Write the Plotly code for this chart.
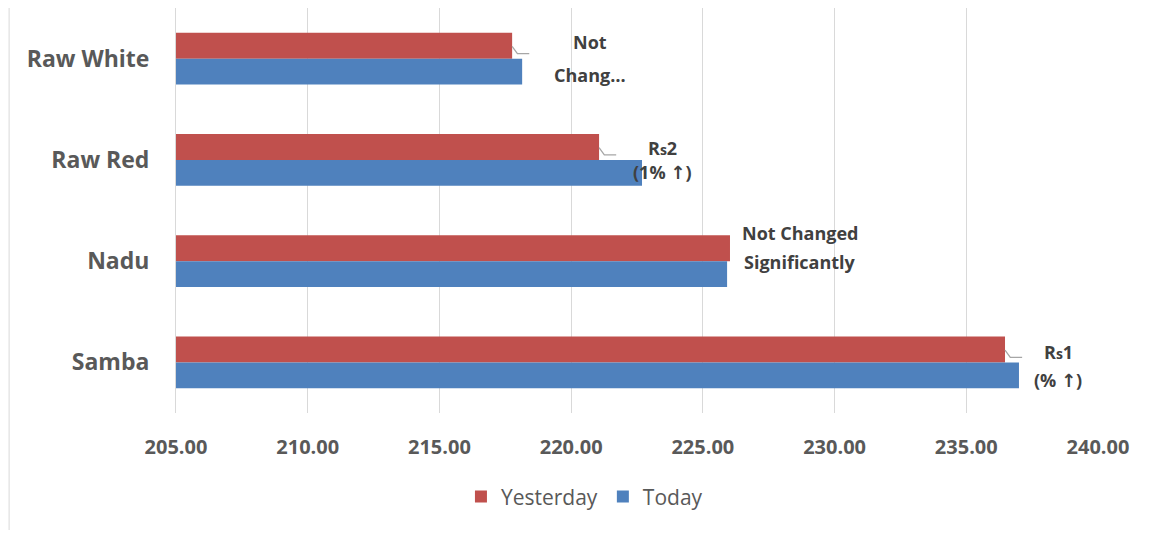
import plotly.graph_objects as go

categories = ["Raw White", "Raw Red", "Nadu", "Samba"]
yesterday = [217.76, 221.06, 226.03, 236.47]
today = [218.14, 222.69, 225.92, 237.00]
ARW = "<span style='font-family:DejaVu Sans'>↑</span>"
RS = "R<span style='font-size:14px'>s</span>"
label_line1 = ["Not", RS + "2", "Not Changed", RS + "1"]
label_line2 = ["Chang…", "(1% " + ARW + ")", "Significantly", "(% " + ARW + ")"]
label_x = [220.72, 223.45, 228.69, 238.49]
label_y = [0.0, 1.0, 1.87, 3.04]
label_gap = [33, 24, 29, 28]
leader = [True, True, False, True]
tick_vals = [205, 210, 215, 220, 225, 230, 235, 240]

RED = "#c0504d"
BLUE = "#4f81bd"
TXT = "#595959"
FONT = "Open Sans"

fig = go.Figure()
fig.add_trace(go.Bar(y=categories, x=yesterday, name="Yesterday", orientation="h",
                     marker=dict(color=RED, line=dict(width=0))))
fig.add_trace(go.Bar(y=categories, x=today, name="Today", orientation="h",
                     marker=dict(color=BLUE, line=dict(width=0))))

for i in range(len(categories)):
    for txt, sgn in ((label_line1[i], 1), (label_line2[i], -1)):
        fig.add_annotation(x=label_x[i], y=label_y[i], xref="x", yref="y", text="<b>" + txt + "</b>",
                           showarrow=False, font=dict(family=FONT, size=18, color="#404040"),
                           align="center", yshift=sgn * label_gap[i] / 2)
    if leader[i]:
        yv = yesterday[i]
        fig.add_shape(type="path", xref="x", yref="y",
                      path=f"M {yv},{i-0.12} L {yv+0.2},{i-0.05} L {yv+0.65},{i-0.05}",
                      line=dict(color="#a6a6a6", width=1.3))

# chart-area left border
fig.add_shape(type="line", xref="paper", yref="paper", x0=-0.181, x1=-0.181, y0=-0.289, y1=1.02,
              line=dict(color="#d9d9d9", width=1))

fig.update_layout(
    width=1155, height=533,
    margin=dict(l=168, r=65, t=0, b=128),
    paper_bgcolor="white", plot_bgcolor="white",
    barmode="group", bargap=0.49, bargroupgap=0,
    font=dict(family=FONT, color=TXT),
    showlegend=True,
    legend=dict(orientation="h", x=0.443, xanchor="center", y=-0.207, yanchor="middle",
                font=dict(family=FONT, size=21, color=TXT), itemsizing="constant"),
    xaxis=dict(range=[205, 240], tickvals=tick_vals, tickformat=".2f",
               showgrid=True, gridcolor="#d9d9d9", gridwidth=1, zeroline=False,
               showline=False, tickfont=dict(family=FONT, size=20, color=TXT, weight="bold"),
               ticks="", ticklabelstandoff=20),
    yaxis=dict(autorange="reversed", showgrid=False, showline=True, linecolor="#d9d9d9",
               linewidth=1, ticks="", tickfont=dict(family=FONT, size=23, color=TXT, weight="bold"),
               ticklabelstandoff=21),
)

fig.write_html("out.html")
